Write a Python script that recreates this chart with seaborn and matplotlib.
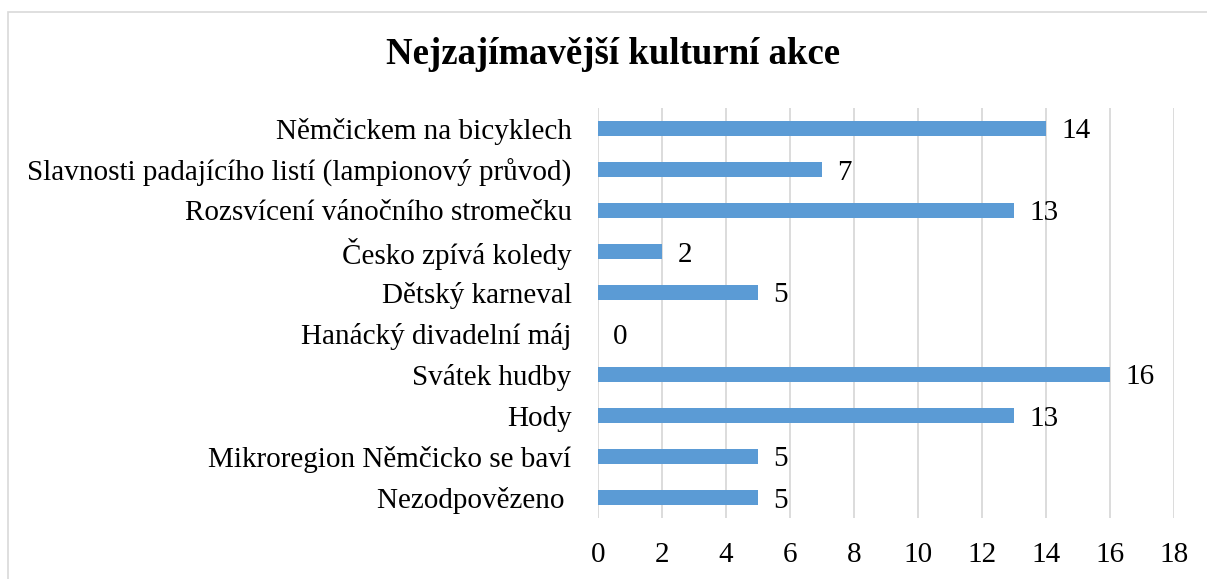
import matplotlib
matplotlib.use("Agg")
import matplotlib.pyplot as plt
import matplotlib.patches as mpatches
import seaborn as sns
import pandas as pd

# ============ DATA ============
akce = [
    "Němčickem na bicyklech",
    "Slavnosti padajícího listí (lampionový průvod)",
    "Rozsvícení vánočního stromečku",
    "Česko zpívá koledy",
    "Dětský karneval",
    "Hanácký divadelní máj",
    "Svátek hudby",
    "Hody",
    "Mikroregion Němčicko se baví",
    "Nezodpovězeno ",
]
pocet = [14, 7, 13, 2, 5, 0, 16, 13, 5, 5]
x_ticks = [0, 2, 4, 6, 8, 10, 12, 14, 16, 18]

df = pd.DataFrame({"akce": akce, "pocet": pocet})

# ============ STYLE ============
sns.set_style("white")
plt.rcParams["font.family"] = ["Liberation Serif", "DejaVu Serif"]
plt.rcParams["text.color"] = "black"
plt.rcParams["xtick.color"] = "black"
plt.rcParams["ytick.color"] = "black"

W, H = 1207, 579
fig = plt.figure(figsize=(W / 100, H / 100), dpi=100)
ax = fig.add_axes([598 / W, 1 - 518 / H, (1174 - 598) / W, (518 - 108) / H])

sns.barplot(data=df, y="akce", x="pocet", orient="h", color="#5B9BD5",
            width=0.35, saturation=1, linewidth=0, ax=ax)

ax.set_xlim(0, 18)
ax.set_ylim(len(akce) - 0.5, -0.5)
ax.set_xticks(x_ticks)
ax.set_xticklabels([str(t) for t in x_ticks])
ax.xaxis.grid(True, color="#D9D9D9", linewidth=1.3)
ax.yaxis.grid(False)
ax.set_axisbelow(True)
for s in ax.spines.values():
    s.set_visible(False)
ax.tick_params(axis="y", length=0, pad=19, labelsize=21, labelcolor="black")
ax.tick_params(axis="x", length=0, pad=17, labelsize=21, labelcolor="black")
ax.set_xlabel("")
ax.set_ylabel("")
for lbl in ax.get_yticklabels():
    lbl.set_verticalalignment("center_baseline")

# value labels
for i, v in enumerate(pocet):
    ax.annotate(str(v), xy=(v, i), xytext=(11, 0), textcoords="offset points",
                ha="left", va="center_baseline", fontsize=21, color="black")

fig.text(613 / W, 1 - 55 / H, "Nejzajímavější kulturní akce",
         ha="center", va="center", fontsize=26.5, fontweight="bold",
         color="black")

# chart frame
frame = mpatches.Rectangle((8 / W, -0.05), 1.1, 1 - 12 / H + 0.05,
                           transform=fig.transFigure, fill=False,
                           edgecolor="#D9D9D9", linewidth=1.2)
fig.patches.append(frame)

plt.savefig("out.png", dpi=100)
